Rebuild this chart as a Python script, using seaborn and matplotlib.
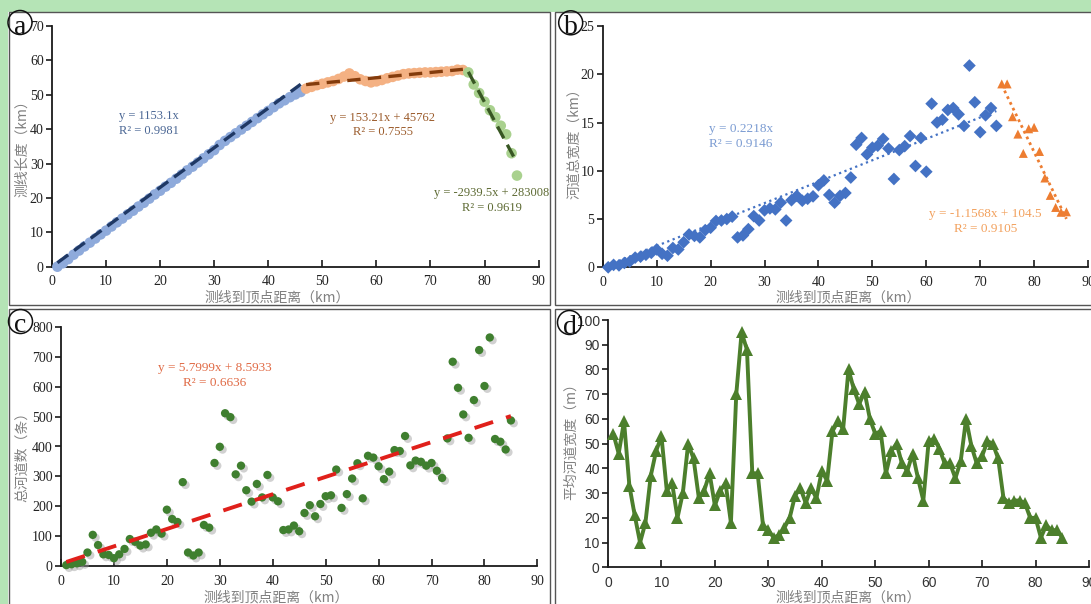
import numpy as np
import pandas as pd
import seaborn as sns
import matplotlib.pyplot as plt
from matplotlib.patches import Rectangle, Ellipse
from matplotlib import patheffects as pe

W, H = 1091, 604

# ---- panel a: profile length (km) vs distance to apex (km) ----
a_x_up = list(range(1, 47))
a_y_up = [0.0, 1.0, 2.2, 3.5, 4.7, 5.9, 7.0, 8.2, 9.4, 10.5, 11.7, 12.9, 14.0, 15.2,
          16.3, 17.5, 18.6, 19.8, 21.0, 22.1, 23.3, 24.4, 25.6, 26.8, 28.0, 29.1, 30.3,
          31.5, 32.7, 33.9, 35.4, 36.6, 37.7, 38.8, 39.9, 41.0, 42.1, 43.2, 44.3, 45.3,
          46.4, 47.5, 48.4, 49.3, 50.1, 50.8]
a_x_mid = list(range(47, 77))
a_y_mid = [51.8, 52.3, 52.8, 53.2, 53.6, 54.0, 54.6, 55.3, 56.2, 55.4, 54.5, 54.0,
           53.6, 53.9, 54.3, 54.8, 55.2, 55.6, 56.0, 56.2, 56.3, 56.4, 56.5, 56.5,
           56.6, 56.7, 56.8, 56.9, 57.3, 57.2]
a_x_down = list(range(77, 87))
a_y_down = [56.5, 53.0, 50.5, 48.0, 45.5, 43.5, 41.0, 38.5, 33.0, 26.5]
# trend lines (equations are in metres)
a_fit_slope = [1153.1, 153.21, -2939.5]
a_fit_icept = [0, 45762, 283008]
a_fit_r2 = ["0.9981", "0.7555", "0.9619"]

# ---- panel b: total channel width (km) ----
b_x_up = list(range(1, 74))
b_y_up = [0.0, 0.25, 0.2, 0.45, 0.6, 1.0, 1.1, 1.3, 1.5, 1.85,
          1.4, 1.2, 2.0, 1.85, 2.6, 3.4, 3.25, 3.1, 3.85, 4.1,
          4.8, 4.85, 5.0, 5.25, 3.1, 3.3, 3.95, 5.3, 4.85, 5.9,
          6.1, 6.0, 6.7, 4.85, 6.95, 7.4, 6.9, 7.1, 7.35, 8.5,
          9.0, 7.5, 6.7, 7.4, 7.7, 9.3, 12.7, 13.4, 11.7, 12.4,
          12.6, 13.3, 12.3, 9.15, 12.15, 12.55, 13.6, 10.5, 13.4, 9.9,
          16.95, 15.0, 15.3, 16.3, 16.5, 15.85, 14.65, 20.9, 17.1, 14.0,
          15.75, 16.5, 14.65]
b_x_down = list(range(74, 87))
b_y_down = [19.0, 19.0, 15.6, 13.8, 11.8, 14.35, 14.5, 12.0, 9.25, 7.45, 6.2, 5.7, 5.75]
b_fit_slope = [0.2218, -1.1568]
b_fit_icept = [0.0, 104.5]
b_fit_r2 = ["0.9146", "0.9105"]

# ---- panel c: number of channels ----
c_x = list(range(1, 86))
c_y = [4, 7, 10, 15, 46, 105, 71, 40, 38, 27,
       40, 58, 91, 82, 69, 73, 112, 123, 109, 189,
       158, 148, 281, 46, 36, 46, 138, 129, 345, 399,
       511, 498, 307, 336, 254, 216, 275, 230, 305, 230,
       217, 121, 123, 136, 117, 178, 204, 167, 208, 234,
       237, 323, 195, 241, 293, 344, 227, 369, 363, 334,
       291, 316, 388, 385, 435, 337, 353, 349, 336, 345,
       319, 295, 427, 683, 596, 507, 429, 555, 722, 602,
       764, 425, 416, 390, 487]
c_fit_slope = 5.7999
c_fit_icept = 8.5933
c_fit_r2 = "0.6636"

# ---- panel d: mean channel width (m) ----
d_x = list(range(1, 86))
d_y = [54, 46, 59, 33, 21, 10, 18, 37, 47, 53,
       31, 34, 20, 30, 50, 44, 28, 31, 38, 25,
       31, 34, 18, 70, 95, 88, 38, 38, 17, 15,
       12, 13, 16, 20, 29, 32, 26, 32, 28, 39,
       35, 55, 59, 56, 80, 72, 66, 71, 60, 54,
       55, 38, 47, 50, 42, 39, 46, 36, 27, 51,
       52, 48, 42, 42, 36, 43, 60, 49, 42, 45,
       51, 50, 44, 28, 26, 27, 27, 26, 20, 20,
       12, 17, 15, 15, 12]

xlab = "测线到顶点距离（km）"
cjk = ["Noto Sans CJK SC", "DejaVu Sans"]
serif = ["Liberation Serif", "DejaVu Serif"]

sns.set_theme(style="ticks")
plt.rcParams["font.family"] = serif


def box(l, t, r, b):
    return [l / W, 1 - b / H, (r - l) / W, (b - t) / H]


def fx(px):
    return px / W


def fy(py):
    return 1 - py / H


fig = plt.figure(figsize=(W / 100, H / 100), dpi=100)
fig.patch.set_facecolor("#b5e4b6")
fig.add_artist(Rectangle((fx(8), 0), 1, fy(11.5), transform=fig.transFigure,
                         facecolor="white", edgecolor="none", zorder=-10))
for l, t, r, b in [(8.5, 11.5, 550, 305), (555, 11.5, 1092, 305),
                   (8.5, 308.5, 550, 605), (555, 308.5, 1092, 605)]:
    fig.add_artist(Rectangle((fx(l), fy(b)), fx(r) - fx(l), fy(t) - fy(b),
                             transform=fig.transFigure, facecolor="none",
                             edgecolor="#555555", lw=1, zorder=-5))

ax_a = fig.add_axes(box(52, 26, 538.6, 266.7))
ax_b = fig.add_axes(box(602.8, 26, 1088, 267.3))
ax_c = fig.add_axes(box(61, 326.7, 537.4, 566.3))
ax_d = fig.add_axes(box(608, 320, 1089, 567.3))


def style(ax, ymax, ystep, tickfont=serif, tickcolor="#222222", size=10):
    ax.set_facecolor("none")
    ax.set_xlim(0, 90)
    ax.set_ylim(0, ymax)
    ax.set_xticks(np.arange(0, 91, 10))
    ax.set_yticks(np.arange(0, ymax + 0.1, ystep))
    sns.despine(ax=ax)
    for s in ("left", "bottom"):
        ax.spines[s].set_color("#1a1a1a")
        ax.spines[s].set_linewidth(1.3)
    ax.tick_params(axis="x", direction="in", length=5, width=1.2, pad=6,
                   color="#1a1a1a")
    ax.tick_params(axis="y", direction="out", length=4, width=1.2, pad=2,
                   color="#1a1a1a")
    for lab in ax.get_xticklabels() + ax.get_yticklabels():
        lab.set_family(tickfont)
        lab.set_fontsize(size)
        lab.set_color(tickcolor)


def labels(ax, ylab, xpos, ypos):
    ax.set_xlabel(xlab, family=cjk, fontsize=10, color="#808080")
    ax.set_ylabel(ylab, family=cjk, fontsize=10, color="#808080")
    ax.xaxis.set_label_coords(fx(xpos[0]), fy(xpos[1]), transform=fig.transFigure)
    ax.yaxis.set_label_coords(fx(ypos[0]), fy(ypos[1]), transform=fig.transFigure)
    ax.xaxis.label.set_va("center")
    ax.yaxis.label.set_va("center")


eq_size = 9

# ---------------- panel a ----------------
dfa = pd.concat([
    pd.DataFrame({"x": a_x_up, "y": a_y_up, "seg": "up"}),
    pd.DataFrame({"x": a_x_mid, "y": a_y_mid, "seg": "mid"}),
    pd.DataFrame({"x": a_x_down, "y": a_y_down, "seg": "down"}),
])
sns.scatterplot(data=dfa, x="x", y="y", hue="seg", ax=ax_a, s=58, linewidth=0,
                palette={"up": "#8eaadb", "mid": "#f4b183", "down": "#a9d18e"},
                legend=False, clip_on=False, zorder=3)
fit_cols = ["#1f3864", "#843c0c", "#385723"]
seg_x = [a_x_up, a_x_mid, a_x_down]
for k, b0, xs, col in zip(a_fit_slope, a_fit_icept, seg_x, fit_cols):
    xx = np.array([xs[0], xs[-1]], dtype=float)
    ax_a.plot(xx, (k * xx + b0) / 1000, ls=(0, (4, 2.2)), lw=2.4, color=col, zorder=4)
ax_a.text(18, 41.7, "y = 1153.1x\nR² = " + a_fit_r2[0], ha="center", va="center",
          fontsize=eq_size, color="#4a6694", linespacing=1.3)
ax_a.text(61.2, 41.2, "y = 153.21x + 45762\nR² = " + a_fit_r2[1], ha="center",
          va="center", fontsize=eq_size, color="#9b5b2b", linespacing=1.3)
ax_a.text(81.4, 19.2, "y = -2939.5x + 283008\nR² = " + a_fit_r2[2], ha="center",
          va="center", fontsize=eq_size, color="#5d6a33", linespacing=1.3)
style(ax_a, 70, 10)
labels(ax_a, "测线长度（km）", (277, 297), (22, 145))

# ---------------- panel b ----------------
dfb = pd.concat([
    pd.DataFrame({"x": b_x_up, "y": b_y_up, "seg": "up"}),
    pd.DataFrame({"x": b_x_down, "y": b_y_down, "seg": "down"}),
])
sns.scatterplot(data=dfb, x="x", y="y", hue="seg", style="seg",
                markers={"up": "D", "down": "^"}, ax=ax_b, s=42, linewidth=0,
                palette={"up": "#4472c4", "down": "#ed7d31"}, legend=False,
                clip_on=False, zorder=3)
xx = np.array([0, b_x_up[-1]], dtype=float)
ax_b.plot(xx, b_fit_slope[0] * xx + b_fit_icept[0], ls=(0, (1, 1.6)), lw=1.6,
          color="#4472c4", zorder=2)
xx = np.array([b_x_down[0], b_x_down[-1]], dtype=float)
ax_b.plot(xx, b_fit_slope[1] * xx + b_fit_icept[1], ls=(0, (1, 1.3)), lw=2.0,
          color="#ed7d31", zorder=2)
ax_b.text(25.6, 13.55, "y = 0.2218x\nR² = " + b_fit_r2[0], ha="center", va="center",
          fontsize=eq_size + 0.5, color="#7a9bd2", linespacing=1.3)
ax_b.text(71, 4.75, "y = -1.1568x + 104.5\nR² = " + b_fit_r2[1], ha="center",
          va="center", fontsize=eq_size + 0.5, color="#f2a05c", linespacing=1.3)
style(ax_b, 25, 5)
labels(ax_b, "河道总宽度（km）", (848, 297), (575, 140))

# ---------------- panel c ----------------
dfc = pd.DataFrame({"x": c_x, "y": c_y})
sc = sns.scatterplot(data=dfc, x="x", y="y", ax=ax_c, s=36, linewidth=0,
                     color="#3f7f2f", clip_on=False, zorder=3)
sc.collections[0].set_path_effects([
    pe.SimplePatchShadow(offset=(2, -2), shadow_rgbFace="#9a9a9a", alpha=0.45),
    pe.Normal()])
xx = np.array([c_x[0], c_x[-1]], dtype=float)
ax_c.plot(xx, c_fit_slope * xx + c_fit_icept, ls=(0, (5, 3.5)), lw=2.8,
          color="#e0201b", zorder=4)
ax_c.text(29, 638, "y = 5.7999x + 8.5933\nR² = " + c_fit_r2, ha="center",
          va="center", fontsize=eq_size + 0.5, color="#e06a45", linespacing=1.3)
style(ax_c, 800, 100)
labels(ax_c, "总河道数（条）", (276, 597), (22, 453))

# ---------------- panel d ----------------
dfd = pd.DataFrame({"x": d_x, "y": d_y})
sns.lineplot(data=dfd, x="x", y="y", ax=ax_d, color="#4c7f2c", lw=2.8,
             marker="^", markersize=8, markeredgewidth=0, clip_on=False, zorder=3)
style(ax_d, 100, 10, tickfont=["Liberation Sans", "DejaVu Sans"],
      tickcolor="#333333", size=10)
labels(ax_d, "平均河道宽度（m）", (848, 597), (571, 438))

# circled panel letters
for letter, cx, cy in [("a", 20, 22.5), ("b", 570.7, 22.8), ("c", 20.5, 321.5),
                       ("d", 569.5, 322.5)]:
    fig.add_artist(Ellipse((fx(cx), fy(cy)), 24 / W, 24 / H, transform=fig.transFigure,
                           facecolor="none", edgecolor="#111111", lw=1.1))
    fig.text(fx(cx), fy(cy + 1.5), letter, ha="center", va="center_baseline",
             fontsize=20, family=serif, color="#111111")

fig.savefig("out.png", dpi=100, facecolor=fig.get_facecolor())
